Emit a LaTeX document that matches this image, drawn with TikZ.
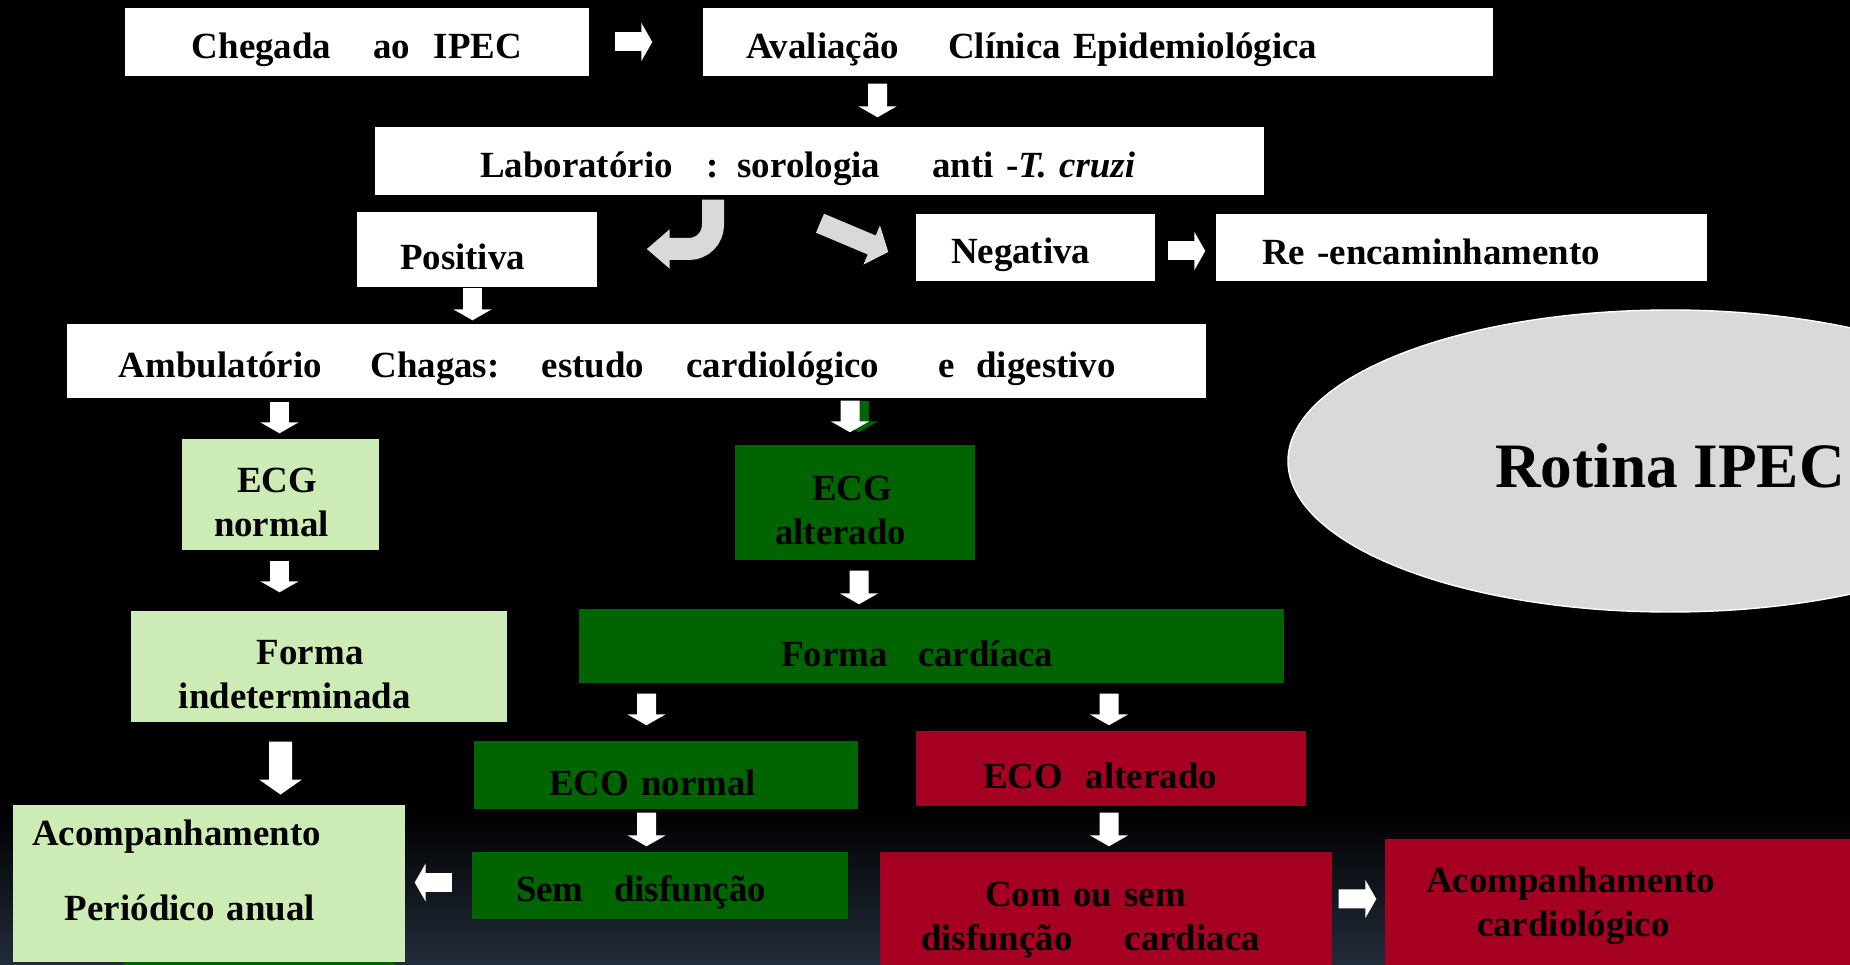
\documentclass[tikz,border=0pt]{standalone}
\usepackage{fontspec}
\setmainfont{Liberation Serif}
\usetikzlibrary{shapes.geometric,arrows.meta,calc}
\definecolor{lightg}{HTML}{CDEBB4}
\definecolor{darkg}{HTML}{006400}
\definecolor{crimson}{HTML}{A50021}
\definecolor{oval}{HTML}{D9D9D9}
\definecolor{navy}{HTML}{222C3A}
\def\strutht{11.5pt}

\begin{document}
\begin{tikzpicture}[x=1mm, y=-1mm,
      every node/.style = {shape=rectangle, inner sep=0pt, text=black,
        font=\fontsize{10.5}{12.6}\selectfont\bfseries,
        execute at begin node={\rule{0pt}{\strutht}}},
      lowstrut/.style = {/utils/exec={\def\strutht{9.5pt}}},
      whitebox/.style = {fill=white},
      palebox/.style = {fill=lightg},
      greenbox/.style = {fill=darkg},
      redbox/.style = {fill=crimson},
      blk/.style = {draw=white, line width=1.9mm,
        -{Triangle[length=1.1mm, width=3.8mm]}},
      bigblk/.style = {draw=white, line width=2.3mm,
        -{Triangle[length=1.5mm, width=4.2mm]}},
      curve/.style = {draw=oval, line width=2.2mm,
        -{Triangle[length=2.3mm, width=3.8mm]}},
      slant/.style = {draw=oval, line width=2.06mm,
        -{Triangle[length=1.8mm, width=4.16mm]}}]
    \useasboundingbox (0,0) rectangle (185,96.5);
    \clip (0,0) rectangle (185,96.5);
    \fill[black] (0,0) rectangle (185,96.5);
    \shade[top color=black, bottom color=navy] (0,81) rectangle (185,96.5);

    \node[whitebox, minimum width=46.4mm, minimum height=6.8mm] (chegada) at (35.7,4.2)
      {Chegada\hspace{12pt}ao\hspace{6.7pt}IPEC};
    \node[whitebox, minimum width=79mm, minimum height=6.8mm, text width=70.4mm, align=left]
      (avaliacao) at (109.8,4.2) {Avaliação\hspace{14pt}Clínica Epidemiológica};
    \node[whitebox, minimum width=88.9mm, minimum height=6.8mm, text width=67.9mm, align=left]
      (lab) at (81.95,16.1) {Laboratório\hspace{9.7pt}: sorologia\hspace{14.8pt}anti -\textit{T. cruzi}};
    \node[whitebox, minimum width=24mm, minimum height=7.5mm, text width=15.4mm, align=left]
      (positiva) at (47.7,24.95) {Positiva};
    \node[whitebox, minimum width=23.9mm, minimum height=6.7mm, text width=16.9mm, align=left]
      (negativa) at (103.55,24.75) {Negativa};
    \node[whitebox, lowstrut, minimum width=49.1mm, minimum height=6.7mm, text width=39.9mm, align=left]
      (reenc) at (146.15,24.75) {Re -encaminhamento};
    \node[whitebox, minimum width=113.9mm, minimum height=7.4mm, text width=103.5mm, align=left]
      (amb) at (63.65,36.1)
      {Ambulatório\hspace{13.8pt}Chagas:\hspace{12pt}estudo\hspace{12pt}cardiológico\hspace{17pt}e\hspace{6pt}digestivo};

    \node[ellipse, fill=oval, draw=white, line width=0.4pt, minimum width=76.4mm,
      minimum height=30.2mm, font=\fontsize{18}{20}\selectfont\bfseries,
      execute at begin node={\rule{0pt}{15.5pt}}]
      (rotina) at (167.0,46.1) {Rotina IPEC};

    \node[palebox, minimum width=19.7mm, minimum height=11.1mm, text width=13.3mm, align=left]
      (ecgn) at (28.05,49.45) {\hspace*{2.3mm}ECG\\normal};
    \node[greenbox, minimum width=24mm, minimum height=11.5mm, text width=16mm, align=left]
      (ecga) at (85.5,50.25) {\hspace*{3.7mm}ECG\\alterado};
    \node[palebox, minimum width=37.6mm, minimum height=11.1mm, text width=28mm, align=left]
      (findet) at (31.9,66.65) {\hspace*{7.8mm}Forma\\indeterminada};
    \node[greenbox, minimum width=70.5mm, minimum height=7.4mm, text width=30.1mm, align=left]
      (fcard) at (93.15,64.6) {Forma\hspace{8.7pt}cardíaca};
    \node[greenbox, minimum width=38.4mm, minimum height=6.8mm, text width=23.4mm, align=left]
      (econ) at (66.6,77.5) {ECO normal};
    \node[redbox, minimum width=39mm, minimum height=7.5mm, text width=25.6mm, align=left]
      (ecoa) at (111.1,76.85) {ECO\hspace{6.5pt}alterado};
    \fill[darkg] (12.4,95.9) rectangle (39.5,97);
    \node[palebox, minimum width=39.2mm, minimum height=15.1mm, text width=35.4mm, align=left,
      text depth=33pt]
      (acomp) at (20.9,88.35) {Acompanhamento\\[8.8pt]\hspace*{3.3mm}Periódico anual};
    \node[greenbox, minimum width=37.6mm, minimum height=6.7mm, text width=28.8mm, align=left]
      (semd) at (66.0,88.55) {Sem\hspace{8.7pt}disfunção};
    \node[redbox, lowstrut, minimum width=45.2mm, minimum height=12.7mm, text width=37mm, align=left]
      (comsem) at (110.6,91.55) {\hspace*{6.4mm}Com ou sem\\disfunção\hspace{14.8pt}cardiaca};
    \node[redbox, lowstrut, minimum width=46.5mm, minimum height=12.6mm, text width=38.3mm, align=left]
      (acard) at (161.75,90.2) {Acompanhamento\\\hspace*{5.1mm}cardiológico};

    \draw[blk] ($(chegada.east)+(2.5,0)$) -- ($(avaliacao.west)+(-5.0,0)$);
    \draw[blk] ($(avaliacao.south)+(-22.05,0.7)$) -- ($(lab.north)+(5.8,-0.9)$);
    \draw[curve, rounded corners=2.4mm] ($(lab.south)+(-10.65,0.4)$) |- ($(positiva.east)+(4.9,-0.05)$);
    \draw[slant] ($(lab.south)+(0.05,2.75)$) -- ($(negativa.west)+(-2.7,0.45)$);
    \draw[blk] ($(positiva.south)+(-0.45,0)$) -- ($(amb.north)+(-16.4,-0.3)$);
    \draw[blk] ($(negativa.east)+(1.2,0.35)$) -- ($(reenc.west)+(-1.0,0.35)$);
    \draw[blk] ($(amb.south)+(-35.7,0.3)$) -- ($(ecgn.north)+(-0.1,-0.5)$);
    \draw[blk, draw=darkg] ($(amb.south)+(22.25,0.2)$) -- ($(ecga.north)+(0.4,-1.2)$);
    \draw[blk] ($(amb.south)+(21.35,0.2)$) -- ($(ecga.north)+(-0.5,-1.2)$);
    \draw[blk] ($(ecgn.south)+(-0.1,1.0)$) -- ($(findet.north)+(-3.95,-1.8)$);
    \draw[blk] ($(ecga.south)+(0.4,1.0)$) -- ($(fcard.north)+(-7.25,-0.4)$);
    \draw[blk] ($(fcard.south)+(-28.5,1.0)$) -- ($(econ.north)+(-1.95,-1.5)$);
    \draw[blk] ($(fcard.south)+(17.75,1.0)$) -- ($(ecoa.north)+(-0.2,-0.5)$);
    \draw[bigblk] ($(findet.south)+(-3.85,1.9)$) -- ($(acomp.north)+(7.15,-1.0)$);
    \draw[blk] ($(econ.south)+(-1.95,0.3)$) -- ($(semd.north)+(-1.35,-0.5)$);
    \draw[blk] ($(ecoa.south)+(-0.2,0.6)$) -- ($(comsem.north)+(0.3,-0.5)$);
    \draw[blk] ($(semd.west)+(-1.9,-0.3)$) -- ($(acomp.east)+(0.9,-0.1)$);
    \draw[blk] ($(comsem.east)+(0.6,-1.65)$) -- ($(acard.west)+(-0.8,-0.3)$);
\end{tikzpicture}
\end{document}
